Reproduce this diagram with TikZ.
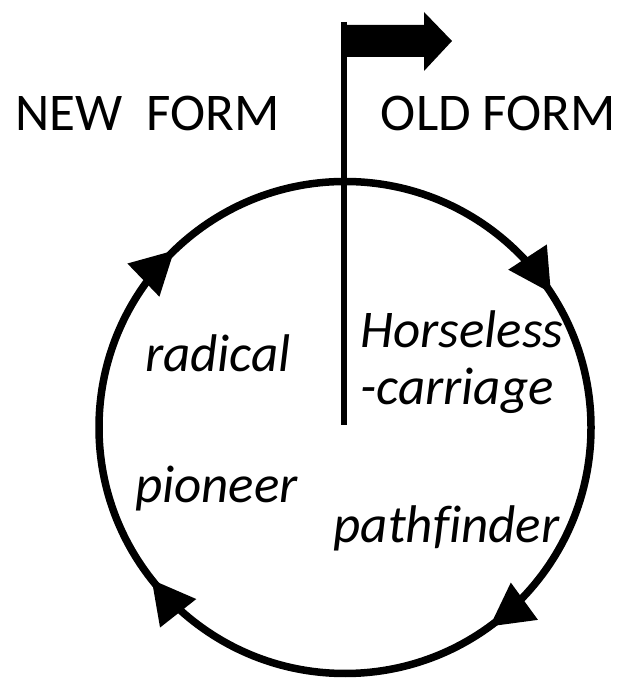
\documentclass[tikz,border=0pt]{standalone}
\usepackage{fontspec}
\setmainfont{Carlito}[Ligatures=NoCommon]
\usetikzlibrary{arrows.meta,decorations.markings}
\begin{document}
\begin{tikzpicture}[x=1pt,y=1pt,
  lbl/.style={inner sep=0pt,font=\fontsize{53}{59}\selectfont},
  ilbl/.style={inner sep=0pt,font=\fontsize{53}{59}\selectfont\itshape},
  cyc/.style={line width=7.5pt,postaction={decorate},decoration={markings,
    mark=at position 0.15 with {\arrow{Triangle[length=43pt,width=44pt]}},
    mark=at position 0.394 with {\arrow{Triangle[length=43pt,width=44pt]}},
    mark=at position 0.628 with {\arrow{Triangle[length=43pt,width=44pt]}},
    mark=at position 0.908 with {\arrow{Triangle[length=43pt,width=44pt]}}}},
  pole/.style={line width=6pt}]
\useasboundingbox (0,0) rectangle (624,682);
% cycle circle (clockwise)
\coordinate (c) at (345,254.5);
\draw[cyc] (c) ++(0:246) arc[start angle=360,end angle=0,radius=246];
% flag pole
\coordinate (poletop) at (344,660);
\coordinate (polebot) at (344,257);
\draw[pole] (poletop) -- (polebot);
% flag
\fill (341,657) -- (424,657) -- (424,670) -- (452,641) -- (424,611) -- (424,625) -- (341,625) -- cycle;
% labels
\node[lbl,anchor=base] (new) at (147.5,551) {NEW\ \ FORM};
\node[lbl,anchor=base] (old) at (498.5,551) {OLD FORM};
\node[ilbl,anchor=base] (radical) at (218,310) {radical};
\node[ilbl,anchor=base west] (horse) at (360,334) {Horseless};
\node[ilbl,anchor=base west] (carr) at (360,277) {-carriage};
\node[ilbl,anchor=base] (pioneer) at (216.5,179) {pioneer};
\node[ilbl,anchor=base] (path) at (446.5,139) {pathfinder};
\end{tikzpicture}
\end{document}
